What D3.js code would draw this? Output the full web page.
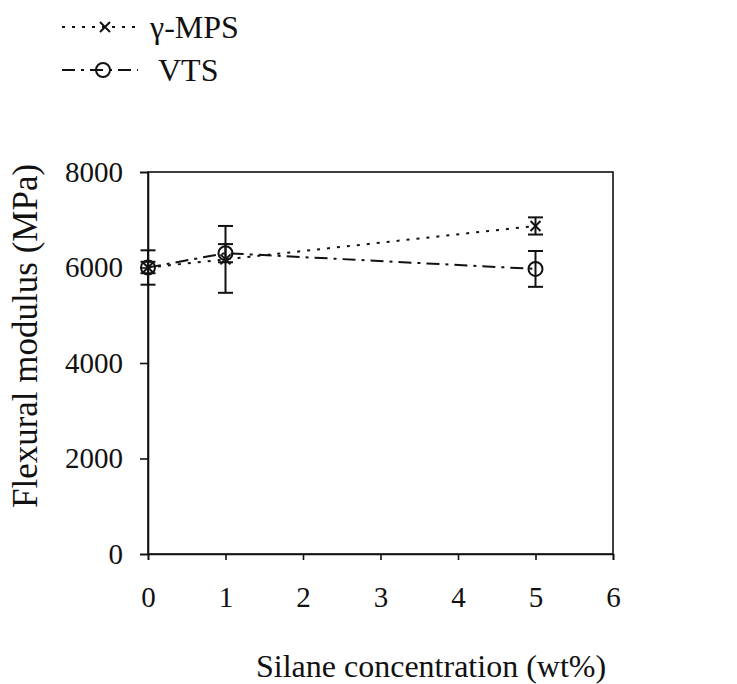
<!DOCTYPE html>
<html>
<head>
<meta charset="utf-8">
<script src="https://cdn.jsdelivr.net/npm/d3@7"></script>
<style>
  body { margin: 0; background: #fff; }
  text { font-family: "Liberation Serif", "Times New Roman", serif; fill: #111; }
</style>
</head>
<body>
<div id="svgContainer"></div>
<script>
// values
var silane = [0, 1, 5];
var mpsModulus = [6000, 6170, 6870];
var mpsError = [120, 700, 180];
var vtsModulus = [6000, 6300, 5970];
var vtsError = [360, 190, 375];
var xTicks = [0, 1, 2, 3, 4, 5, 6];
var yTicks = [0, 2000, 4000, 6000, 8000];

var width = 737, height = 684;
var margin = { top: 172, right: 124, bottom: 130, left: 148 },
    inner_w = width - margin.left - margin.right,
    inner_h = height - margin.top - margin.bottom;

var svg = d3.select("#svgContainer").append("svg")
    .attr("width", width).attr("height", height);
var g = svg.append("g").attr("transform", `translate(${margin.left},${margin.top})`);

var xScale = d3.scaleLinear().domain([0, 6]).range([0, inner_w]);
var yScale = d3.scaleLinear().domain([0, 8000]).range([inner_h, 0]);

// frame
g.append("rect").attr("width", inner_w).attr("height", inner_h)
    .attr("fill", "none").attr("stroke", "#111").attr("stroke-width", 1.6);

var xAxis = g.append("g").attr("transform", `translate(0,${inner_h})`)
    .call(d3.axisBottom(xScale).tickValues(xTicks).tickFormat(d3.format("d")).tickSize(6).tickPadding(26));
var yAxis = g.append("g")
    .call(d3.axisLeft(yScale).tickValues(yTicks).tickFormat(d => d).tickSize(8).tickPadding(17));
[xAxis, yAxis].forEach(a => {
    a.select(".domain").attr("stroke", "#111").attr("stroke-width", 1.6);
    a.selectAll(".tick line").attr("stroke", "#111").attr("stroke-width", 1.6);
    a.selectAll("text").style("font-size", "29px").attr("fill", "#111")
        .attr("font-family", "Liberation Serif, serif");
});

// axis titles
svg.append("text").attr("x", 256).attr("y", 677).attr("text-anchor", "start")
    .style("font-size", "32px").text("Silane concentration (wt%)");
svg.append("text").attr("transform", "rotate(-90)")
    .attr("x", -336).attr("y", 37).attr("text-anchor", "middle")
    .style("font-size", "35px").text("Flexural modulus (MPa)");

var series = [
    { name: "γ-MPS", values: mpsModulus, errors: mpsError, dash: "3,7", marker: "x" },
    { name: "VTS", values: vtsModulus, errors: vtsError, dash: "13,6,3,6", marker: "o" }
];

var line = d3.line().x(d => xScale(d.x)).y(d => yScale(d.y));

function drawMarker(sel, type) {
    if (type === "x") {
        sel.append("path")
            .attr("d", "M-5,-5L5,5M-5,5L5,-5")
            .attr("stroke", "#111").attr("stroke-width", 2).attr("fill", "none");
    } else {
        sel.append("circle").attr("r", 7)
            .attr("stroke", "#111").attr("stroke-width", 2).attr("fill", "none");
    }
}

series.forEach(s => {
    var pts = silane.map((x, i) => ({ x: x, y: s.values[i], e: s.errors[i] }));
    g.append("path").datum(pts)
        .attr("fill", "none").attr("stroke", "#111").attr("stroke-width", 2)
        .attr("stroke-dasharray", s.dash)
        .attr("d", line);
    // error bars
    var eb = g.selectAll(null).data(pts).enter().append("g")
        .attr("transform", d => `translate(${xScale(d.x)},0)`);
    eb.append("line")
        .attr("y1", d => yScale(d.y + d.e)).attr("y2", d => yScale(d.y - d.e))
        .attr("stroke", "#111").attr("stroke-width", 2);
    [1, -1].forEach(sign => {
        eb.append("line").attr("x1", -7.5).attr("x2", 7.5)
            .attr("y1", d => yScale(d.y + sign * d.e)).attr("y2", d => yScale(d.y + sign * d.e))
            .attr("stroke", "#111").attr("stroke-width", 2);
    });
    g.selectAll(null).data(pts).enter().append("g")
        .attr("transform", d => `translate(${xScale(d.x)},${yScale(d.y)})`)
        .each(function () { drawMarker(d3.select(this), s.marker); });
});

// legend
var legend = svg.append("g");
series.forEach((s, i) => {
    var ly = 27 + i * 43;
    legend.append("line").attr("x1", 62).attr("x2", 138).attr("y1", ly).attr("y2", ly)
        .attr("stroke", "#111").attr("stroke-width", 2).attr("stroke-dasharray", s.dash);
    var m = legend.append("g").attr("transform", `translate(${i === 0 ? 105 : 103},${ly})`);
    drawMarker(m, s.marker);
    legend.append("text").attr("x", i === 0 ? 150 : 158).attr("y", ly + 11)
        .style("font-size", "32px").text(s.name);
});
</script>
</body>
</html>
